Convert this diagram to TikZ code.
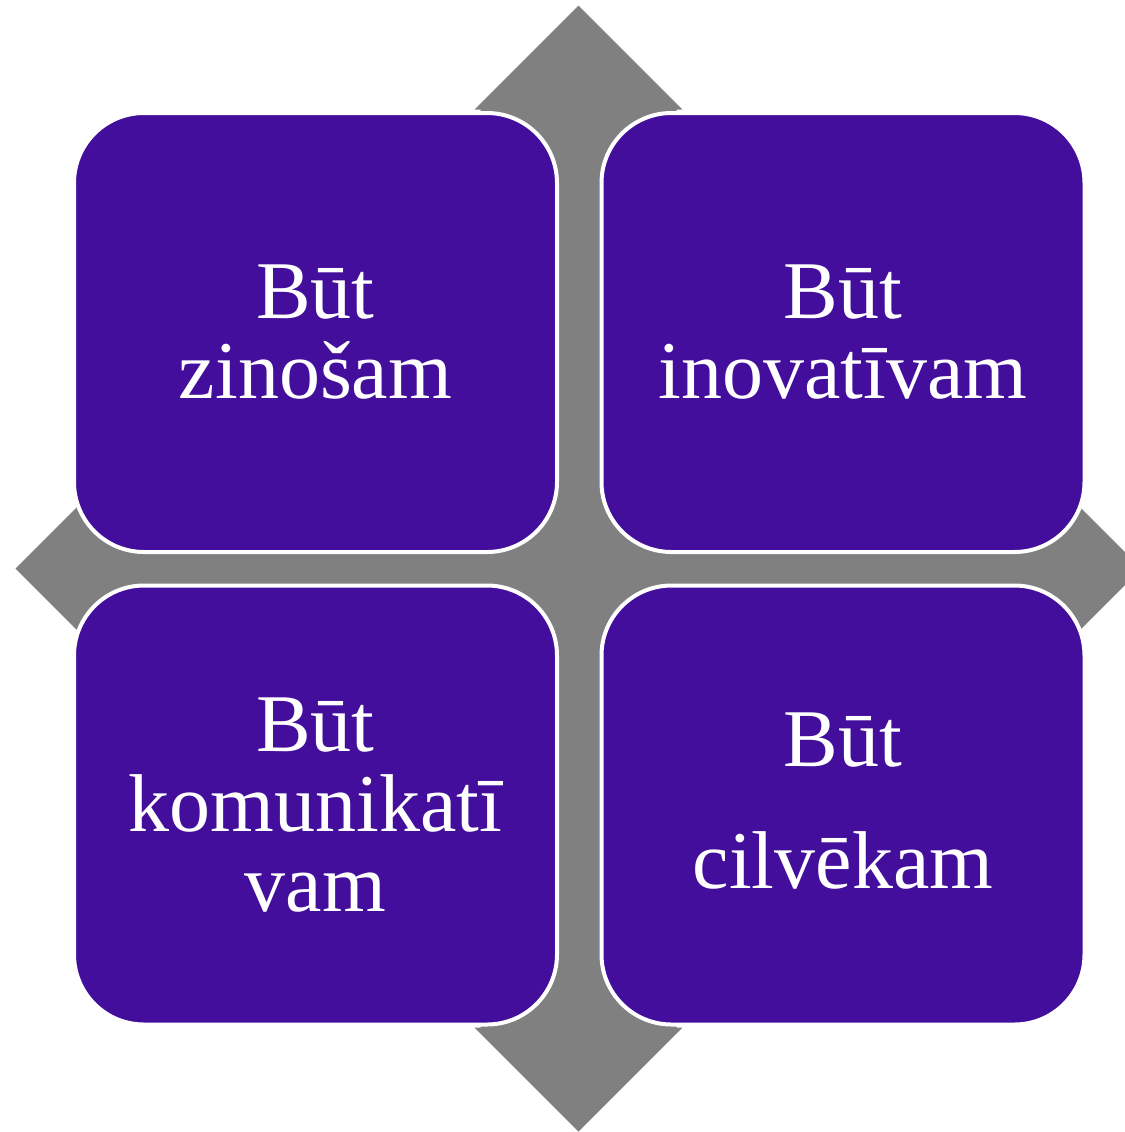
\documentclass[tikz,border=0pt]{standalone}
\usepackage{fontspec}
\setmainfont{Liberation Serif}
\usepackage{tikz}
\definecolor{matrixpurple}{RGB}{67,14,155}
\definecolor{arrowgray}{RGB}{128,128,128}
\tikzset{
	cell/.style={rectangle, rounded corners=35pt, fill=matrixpurple, draw=white,
		line width=2pt, minimum width=241.5pt, minimum height=219.5pt,
		inner sep=0pt, text=white, align=center,
		font=\fontsize{41}{40}\selectfont},
}

\begin{document}
\begin{tikzpicture}[x=0.5pt, y=-0.5pt]
			\clip (0,0) rectangle (1125,1132);
			% four-way arrow behind the matrix
			\begin{scope}[shift={(578.5,568.5)}]
				\fill[arrowgray] (0,-563) -- (104,-459) -- (98,-459) -- (98,-98)
					-- (459,-98) -- (459,-104) -- (563,0) -- (459,104) -- (459,98)
					-- (98,98) -- (98,459) -- (104,459) -- (0,563) -- (-104,459)
					-- (-98,459) -- (-98,98) -- (-459,98) -- (-459,104) -- (-563,0)
					-- (-459,-104) -- (-459,-98) -- (-98,-98) -- (-98,-459)
					-- (-104,-459) -- cycle;
			\end{scope}
			\node[cell] (zin) at (315.5,332.5) {Būt\\zinošam};
			\node[cell] (ino) at (843,332.5) {Būt\\inovatīvam};
			\node[cell] (kom) at (315.5,805) {Būt\\komunikatī\\vam};
			\node[cell, text depth=4.5pt] (cil) at (843,805) {Būt\\[21pt]cilvēkam};
		\end{tikzpicture}
\end{document}
